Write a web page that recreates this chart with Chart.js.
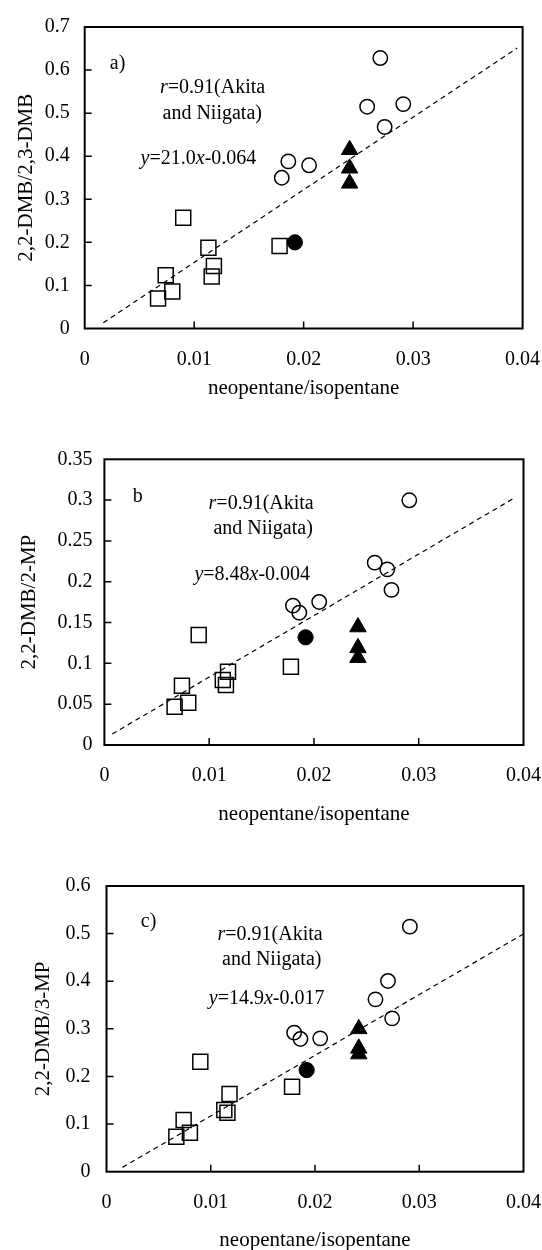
<!DOCTYPE html>
<html>
<head>
<meta charset="utf-8">
<script src="https://cdn.jsdelivr.net/npm/chart.js@4.4.1/dist/chart.umd.min.js"></script>
<style>
  html, body { margin: 0; padding: 0; background: #fff; overflow: hidden; width: 542px; height: 1250px; }
  canvas { position: absolute; left: 0; }
</style>
</head>
<body>
<canvas id="chartA" width="560" height="410" style="top:0px"></canvas>
<canvas id="chartB" width="560" height="410" style="top:420px"></canvas>
<canvas id="chartC" width="560" height="413" style="top:840px"></canvas>
<script>
// DATA (x = neopentane/isopentane, shared by all three panels)
const xTicks = [0, 0.01, 0.02, 0.03, 0.04];

const circleX = [0.0270, 0.0258, 0.0291, 0.0274, 0.0180, 0.0186, 0.0205];
const filledX = [0.0192];
const triangleX = [0.0242, 0.0242, 0.0242];
const squareX = [0.0090, 0.0113, 0.0118, 0.0116, 0.0074, 0.0080, 0.0067, 0.0178];

// a) 2,2-DMB/2,3-DMB
const aCircleY = [0.628, 0.515, 0.521, 0.468, 0.350, 0.388, 0.379];
const aFilledY = [0.200];
const aTriangleY = [0.415, 0.372, 0.337];
const aSquareY = [0.257, 0.1875, 0.145, 0.121, 0.1234, 0.0857, 0.0699, 0.1914];
const aLineX = [0.0017, 0.0395];
const aLineY = [0.0134, 0.651];

// b) 2,2-DMB/2-MP
const bCircleY = [0.2152, 0.2234, 0.2998, 0.190, 0.1707, 0.1621, 0.1752];
const bFilledY = [0.1319];
const bTriangleY = [0.1445, 0.119, 0.107];
const bSquareY = [0.1348, 0.0796, 0.0898, 0.0735, 0.0727, 0.0519, 0.047, 0.096];
const bLineX = [0.00075, 0.03896];
const bLineY = [0.0135, 0.3014];

// c) 2,2-DMB/3-MP
const cCircleY = [0.4005, 0.362, 0.5146, 0.322, 0.292, 0.2787, 0.2801];
const cFilledY = [0.2135];
const cTriangleY = [0.300, 0.259, 0.247];
const cSquareY = [0.231, 0.1296, 0.163, 0.124, 0.1085, 0.0819, 0.0735, 0.1786];
const cLineX = [0.00153, 0.04];
const cLineY = [0.0091, 0.4993];

const FONT = "'Liberation Serif', 'Times New Roman', serif";
Chart.defaults.font.family = FONT;
Chart.defaults.color = '#000';

function pts(xs, ys) {
    return xs.map((x, i) => ({ x: x, y: ys[i] }));
}

function fmt(v) {
    return String(Number(Number(v).toFixed(4)));
}

// box round the plot + inward ticks on bottom and left
const framePlugin = {
    id: 'frame',
    beforeDatasetsDraw(chart) {
        const { ctx, chartArea: a, scales: { x, y } } = chart;
        ctx.save();
        ctx.strokeStyle = '#000';
        ctx.lineWidth = 2;
        ctx.strokeRect(a.left, a.top, a.right - a.left, a.bottom - a.top);
        ctx.lineWidth = 1.5;
        ctx.beginPath();
        x.ticks.forEach(t => {
            if (t.value > x.min && t.value < x.max) {
                const px = x.getPixelForValue(t.value);
                ctx.moveTo(px, a.bottom);
                ctx.lineTo(px, a.bottom - 7);
            }
        });
        y.ticks.forEach(t => {
            if (t.value > y.min && t.value < y.max) {
                const py = y.getPixelForValue(t.value);
                ctx.moveTo(a.left, py);
                ctx.lineTo(a.left + 7, py);
            }
        });
        ctx.stroke();
        ctx.restore();
    }
};

// text notes, each made of plain / italic pieces, centred on a data point
const notesPlugin = {
    id: 'notes',
    afterDatasetsDraw(chart, args, opts) {
        const { ctx, scales: { x, y } } = chart;
        ctx.save();
        ctx.fillStyle = '#000';
        ctx.textBaseline = 'middle';
        (opts.items || []).forEach(item => {
            const fonts = item.parts.map(p => (p[1] ? 'italic ' : '') + '20px ' + FONT);
            let total = 0;
            item.parts.forEach((p, i) => { ctx.font = fonts[i]; total += ctx.measureText(p[0]).width; });
            let cx = x.getPixelForValue(item.at[0]) - total / 2;
            const cy = y.getPixelForValue(item.at[1]);
            item.parts.forEach((p, i) => {
                ctx.font = fonts[i];
                ctx.fillText(p[0], cx, cy);
                cx += ctx.measureText(p[0]).width;
            });
        });
        ctx.restore();
    }
};

function makePanel(id, cfg) {
    const H = document.getElementById(id).height;
    return new Chart(document.getElementById(id), {
        type: 'scatter',
        data: {
            datasets: [
                { data: pts(circleX, cfg.circleY), pointStyle: 'circle', pointRadius: 7.2,
                  backgroundColor: 'rgba(0,0,0,0)', borderColor: '#000', borderWidth: 1.5 },
                { data: pts(filledX, cfg.filledY), pointStyle: 'circle', pointRadius: 7.6,
                  backgroundColor: '#000', borderColor: '#000', borderWidth: 1 },
                { data: pts(triangleX, cfg.triangleY), pointStyle: 'triangle', pointRadius: 9.5,
                  backgroundColor: '#000', borderColor: '#000', borderWidth: 1 },
                { data: pts(squareX, cfg.squareY), pointStyle: 'rect', pointRadius: 10.6,
                  backgroundColor: 'rgba(0,0,0,0)', borderColor: '#000', borderWidth: 1.5 },
                { data: pts(cfg.lineX, cfg.lineY), showLine: true, pointRadius: 0,
                  borderColor: '#000', borderWidth: 1.2, borderDash: [5, 4], fill: false }
            ]
        },
        options: {
            responsive: false,
            animation: false,
            layout: { padding: { top: cfg.top, right: 560 - cfg.right, left: 0, bottom: 0 } },
            plugins: {
                legend: { display: false },
                tooltip: { enabled: false },
                notes: { items: cfg.notes }
            },
            scales: {
                x: {
                    type: 'linear', min: 0, max: 0.04,
                    afterBuildTicks: s => { s.ticks = xTicks.map(v => ({ value: v })); },
                    ticks: { padding: 19, font: { size: 20 }, color: '#000', callback: fmt, maxRotation: 0 },
                    grid: { display: false, drawTicks: false },
                    border: { display: false },
                    title: { display: true, text: 'neopentane/isopentane', color: '#000',
                             font: { size: 21 }, padding: { top: 0, bottom: cfg.xTitlePad } },
                    afterFit: s => { s.height = H - cfg.bottom; }
                },
                y: {
                    type: 'linear', min: 0, max: cfg.yMax,
                    ticks: { stepSize: cfg.yStep, padding: cfg.yTickPad, font: { size: 20 }, color: '#000', callback: fmt },
                    grid: { display: false, drawTicks: false },
                    border: { display: false },
                    title: { display: true, text: cfg.yTitle, color: '#000',
                             font: { size: 21 }, padding: { top: cfg.yTitlePad, bottom: 0 } },
                    afterFit: s => { s.width = cfg.left; }
                }
            }
        },
        plugins: [framePlugin, notesPlugin]
    });
}

makePanel('chartA', {
    circleY: aCircleY, filledY: aFilledY, triangleY: aTriangleY, squareY: aSquareY,
    lineX: aLineX, lineY: aLineY,
    yMax: 0.7, yStep: 0.1, yTitle: '2,2-DMB/2,3-DMB',
    left: 84.7, right: 522.6, top: 19.7, bottom: 328.5,
    yTickPad: 15, yTitlePad: 14, xTitlePad: 9,
    notes: [
        { at: [0.0030, 0.6147], parts: [['a)', false]] },
        { at: [0.01168, 0.5583], parts: [['r', true], ['=0.91(Akita', false]] },
        { at: [0.01165, 0.4995], parts: [['and Niigata)', false]] },
        { at: [0.01039, 0.394], parts: [['y', true], ['=21.0', false], ['x', true], ['-0.064', false]] }
    ]
});

makePanel('chartB', {
    circleY: bCircleY, filledY: bFilledY, triangleY: bTriangleY, squareY: bSquareY,
    lineX: bLineX, lineY: bLineY,
    yMax: 0.35, yStep: 0.05, yTitle: '2,2-DMB/2-MP',
    left: 104.4, right: 529.6, top: 39.3, bottom: 325,
    yTickPad: 12, yTitlePad: 17, xTitlePad: 3,
    notes: [
        { at: [0.00319, 0.3043], parts: [['b', false]] },
        { at: [0.01496, 0.2961], parts: [['r', true], ['=0.91(Akita', false]] },
        { at: [0.01515, 0.2655], parts: [['and Niigata)', false]] },
        { at: [0.01411, 0.2083], parts: [['y', true], ['=8.48', false], ['x', true], ['-0.004', false]] }
    ]
});

makePanel('chartC', {
    circleY: cCircleY, filledY: cFilledY, triangleY: cTriangleY, squareY: cSquareY,
    lineX: cLineX, lineY: cLineY,
    yMax: 0.6, yStep: 0.1, yTitle: '2,2-DMB/3-MP',
    left: 106.5, right: 531.3, top: 46, bottom: 331.7,
    yTickPad: 16, yTitlePad: 31, xTitlePad: 0,
    notes: [
        { at: [0.00404, 0.525], parts: [['c)', false]] },
        { at: [0.01569, 0.497], parts: [['r', true], ['=0.91(Akita', false]] },
        { at: [0.01585, 0.4446], parts: [['and Niigata)', false]] },
        { at: [0.01536, 0.364], parts: [['y', true], ['=14.9', false], ['x', true], ['-0.017', false]] }
    ]
});
</script>
</body>
</html>
